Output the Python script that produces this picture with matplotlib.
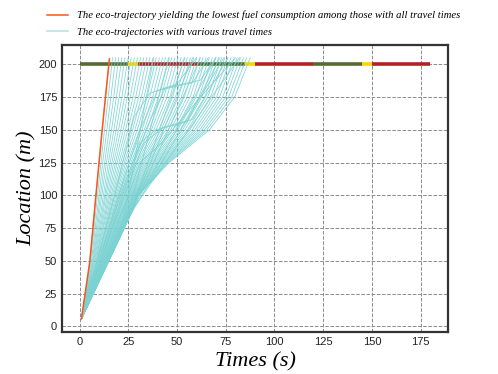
import matplotlib
matplotlib.use('Agg')
import matplotlib.pyplot as plt

# signal timing at the stop line (s) and its colour sequence
PHASE_START = [0, 25, 30, 60, 85, 90, 120, 145, 150]
PHASE_END = [25, 30, 60, 85, 90, 120, 145, 150, 180]
PHASE_COLOR = ['#556b2f', '#ffd700', '#b22222', '#556b2f', '#ffd700',
               '#b22222', '#556b2f', '#ffd700', '#b22222']
STOP_LINE = 200

# fan of eco-trajectories: time (s) when each one reaches the location levels
LOC_LEVELS = [6, 50, 100, 125, 150, 175, 205]
T_START = 1.0
T_AT_50 = [5.3, 5.7, 6.1, 6.6, 7.0, 7.3, 7.7, 8.1, 8.5, 8.8, 9.1, 9.5, 9.8, 10.1,
           10.4, 10.7, 11.0, 11.3, 11.5, 11.8, 12.0, 12.2, 12.5, 12.7, 12.9,
           13.1, 13.2, 13.4, 13.6, 13.7, 13.9, 14.0, 14.1, 14.2, 14.3, 14.4,
           14.5, 14.6, 14.7, 14.7, 14.7, 14.8, 14.8, 14.8, 14.8, 14.8]
T_AT_100 = [8.4, 9.2, 10.0, 10.7, 11.4, 12.2, 12.9, 13.5, 14.2, 14.9, 15.5,
            16.2, 16.8, 17.4, 18.0, 18.6, 19.2, 19.8, 20.3, 20.8, 21.4, 21.9,
            22.4, 22.9, 23.3, 23.8, 24.3, 24.7, 25.1, 25.5, 25.9, 26.3, 26.7,
            27.0, 27.4, 27.7, 28.0, 28.3, 28.6, 28.9, 29.2, 29.4, 29.7, 29.9,
            30.1, 30.3]
T_AT_125 = [10.0, 11.0, 11.9, 12.9, 13.8, 14.8, 15.7, 16.6, 17.5, 18.4, 19.3,
            20.2, 21.1, 22.0, 22.9, 23.7, 24.6, 25.4, 26.3, 27.1, 27.9, 28.7,
            29.5, 30.3, 31.1, 31.9, 32.7, 33.4, 34.2, 34.9, 35.7, 36.4, 37.1,
            37.9, 38.6, 39.3, 40.0, 40.7, 41.3, 42.0, 42.7, 43.3, 44.0, 44.6,
            45.2, 45.9]
T_AT_150 = [11.6, 12.8, 14.0, 15.2, 16.4, 17.6, 18.8, 20.0, 21.2, 22.4, 23.6,
            24.8, 26.0, 27.2, 28.4, 29.6, 30.8, 32.0, 33.2, 34.5, 35.7, 36.9,
            38.1, 39.3, 40.6, 41.8, 43.0, 44.2, 45.5, 46.7, 47.9, 49.2, 50.4,
            51.6, 52.9, 54.1, 55.4, 56.6, 57.8, 59.1, 60.3, 61.6, 62.8, 64.1,
            65.3, 66.6]
T_AT_175 = [13.3, 14.7, 16.1, 17.5, 18.9, 20.3, 21.7, 23.1, 24.5, 26.0, 27.4,
            28.8, 30.3, 31.7, 33.1, 34.6, 36.0, 37.5, 38.9, 40.4, 41.8, 43.3,
            44.8, 46.3, 47.7, 49.2, 50.7, 52.2, 53.7, 55.2, 56.7, 58.2, 59.7,
            61.2, 62.7, 64.2, 65.7, 67.2, 68.8, 70.3, 71.8, 73.4, 74.9, 76.4,
            78.0, 79.5]
T_END = [15.3, 16.9, 18.5, 20.1, 21.7, 23.3, 24.9, 26.5, 28.1, 29.7, 31.3,
         32.9, 34.5, 36.1, 37.7, 39.3, 40.9, 42.5, 44.1, 45.7, 47.3, 48.9,
         50.5, 52.1, 53.7, 55.3, 56.9, 58.5, 60.1, 61.7, 63.3, 64.9, 66.5,
         68.1, 69.7, 71.3, 72.9, 74.5, 76.1, 77.7, 79.3, 80.9, 82.5, 84.1,
         85.7, 87.6]

# trajectories cruising slowly, then heading straight for the stop line
KNEE_T = [21, 23, 25, 27, 29, 24, 26, 28]
KNEE_LOC = [69, 75, 82, 88, 94, 79, 85, 91]
BRANCH_END = [38, 46, 54, 62, 70, 58, 74, 82]

# trajectories that slow down before the stop line and then speed up again
WAVY_LOC = [
    [6, 50, 100, 150, 180, 186, 205],
    [6, 50, 100, 150, 182, 188, 205],
    [6, 50, 100, 140, 150, 156, 205],
    [6, 50, 100, 140, 152, 158, 205],
    [6, 50, 100, 125, 140, 175, 205],
    [6, 50, 100, 160, 178, 185, 205],
]
WAVY_T = [
    [1, 10, 20, 31, 40, 58, 66],
    [1, 11, 22, 34, 44, 62, 70],
    [1, 10, 21, 31, 39, 55, 72],
    [1, 11, 23, 33, 43, 58, 76],
    [1, 12, 25, 31, 42, 62, 80],
    [1, 9, 18, 28, 36, 50, 60],
]

# lowest-fuel trajectory
BEST_T = [1.0, 5.3, 8.4, 11.6, 13.3, 15.3]
BEST_LOC = [6, 50, 100, 150, 175, 204]

CYAN = '#7ad2d2'
ORANGE = '#ff5419'

plt.rcParams['font.family'] = ['Liberation Sans', 'DejaVu Sans']
fig = plt.figure(figsize=(4.98, 3.74), dpi=100)
ax = fig.add_axes([0.1245, 0.1131, 0.7751, 0.7674])

for t0, t1, col in zip(PHASE_START, PHASE_END, PHASE_COLOR):
    ax.plot([t0, t1], [STOP_LINE, STOP_LINE], color=col, linewidth=2.6,
            solid_capstyle='butt', zorder=2)

traj_style = dict(color=CYAN, linewidth=0.6, alpha=0.9, zorder=3)
for i in range(len(T_END)):
    ts = [T_START, T_AT_50[i], T_AT_100[i], T_AT_125[i], T_AT_150[i],
          T_AT_175[i], T_END[i]]
    ax.plot(ts, LOC_LEVELS, **traj_style)
for tk, yk, te in zip(KNEE_T, KNEE_LOC, BRANCH_END):
    ax.plot([T_START, tk, te], [LOC_LEVELS[0], yk, LOC_LEVELS[-1]], **traj_style)
for ts, ys in zip(WAVY_T, WAVY_LOC):
    ax.plot(ts, ys, **traj_style)

ax.plot(BEST_T, BEST_LOC, color=ORANGE, linewidth=1.1, zorder=4)

ax.set_xlim(-9, 189)
ax.set_ylim(-4, 215)
ax.set_xticks([0, 25, 50, 75, 100, 125, 150, 175])
ax.set_yticks([0, 25, 50, 75, 100, 125, 150, 175, 200])
ax.tick_params(length=0, labelsize=8, pad=3.5, colors='#222222')
ax.grid(True, linestyle='--', color='#8c8c8c', linewidth=0.7)
ax.set_axisbelow(True)
for sp in ax.spines.values():
    sp.set_linewidth(1.6)
    sp.set_color('#333333')

serif = {'family': 'Liberation Serif', 'style': 'italic'}
ax.set_xlabel('Times (s)', fontdict=serif, fontsize=16, labelpad=4)
ax.set_ylabel('Location (m)', fontdict=serif, fontsize=16, labelpad=1)

h1, = ax.plot([], [], color=ORANGE, linewidth=1.1)
h2, = ax.plot([], [], color='#a8e4e4', linewidth=1.1)
fig.legend([h1, h2],
           ['The eco-trajectory yielding the lowest fuel consumption among those with all travel times',
            'The eco-trajectories with various travel times'],
           loc='upper left', bbox_to_anchor=(0.075, 0.997), frameon=False,
           prop={'family': 'Liberation Serif', 'style': 'italic', 'size': 7.7},
           handlelength=2.0, labelspacing=0.65)

fig.savefig('out.png', dpi=100)
